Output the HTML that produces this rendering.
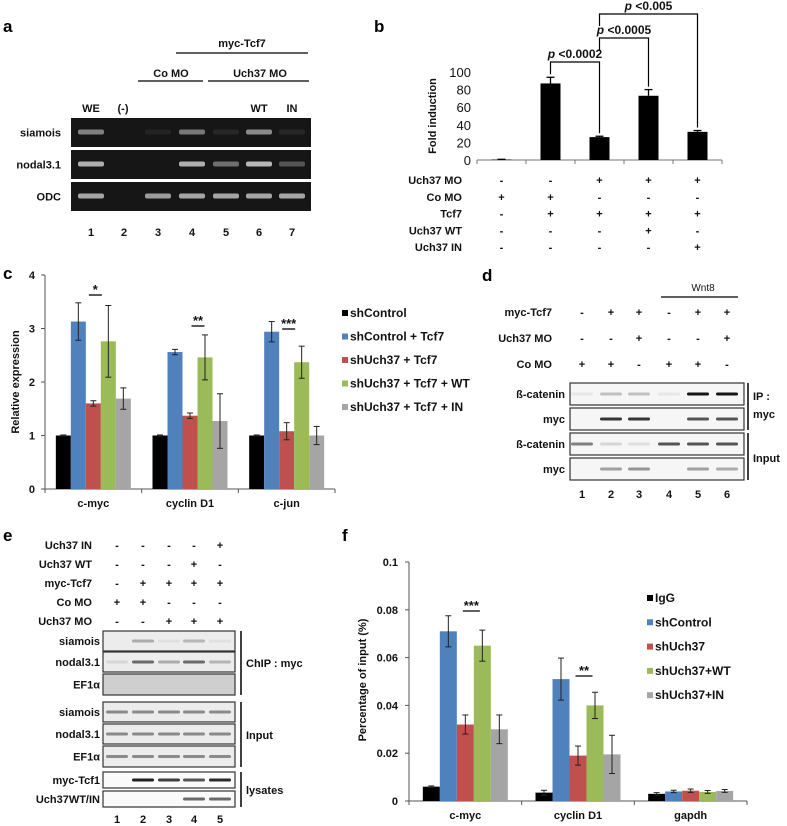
<!DOCTYPE html>
<html><head><meta charset="utf-8">
<style>
html,body{margin:0;padding:0;background:#fff;}
svg{display:block;font-family:"Liberation Sans",Arial,sans-serif;}
.b{font-weight:bold;font-size:11px;fill:#111;}
.pl{font-weight:bold;font-size:17px;fill:#000;}
</style></head>
<body>
<svg id="fig" width="787" height="826" viewBox="0 0 787 826" xmlns="http://www.w3.org/2000/svg">
<g>
<text class="pl" x="3" y="32">a</text>
<text class="b" x="242" y="47" text-anchor="middle">myc-Tcf7</text>
<line x1="176" y1="53" x2="308" y2="53" stroke="#000" stroke-width="1.2"/>
<text class="b" x="171" y="77" text-anchor="middle">Co MO</text>
<line x1="138" y1="81" x2="203" y2="81" stroke="#000" stroke-width="1.2"/>
<text class="b" x="260" y="77" text-anchor="middle">Uch37 MO</text>
<line x1="208" y1="81" x2="309" y2="81" stroke="#000" stroke-width="1.2"/>
<text class="b" x="91" y="112" text-anchor="middle">WE</text>
<text class="b" x="123" y="112" text-anchor="middle">(-)</text>
<text class="b" x="259" y="112" text-anchor="middle">WT</text>
<text class="b" x="292" y="112" text-anchor="middle">IN</text>
<g id="gelA"></g>
</g>
<g>
<text class="pl" x="374" y="32">b</text>
<g id="chartB"></g>
</g>
<g>
<text class="pl" x="3" y="279">c</text>
<g id="chartC"></g>
</g>
<g>
<text class="pl" x="482" y="281">d</text>
<text x="703" y="291" text-anchor="middle" style="font-size:10px;fill:#111">Wnt8</text>
<line x1="661" y1="297" x2="738" y2="297" stroke="#000" stroke-width="1.2"/>
<g id="blotD"></g>
</g>
<g>
<text class="pl" x="3" y="541">e</text>
<g id="blotE"></g>
</g>
<g>
<text class="pl" x="342" y="541">f</text>
<g id="chartF"></g>
</g>
</svg>
<script>
const bCategories = ["1","2","3","4","5"];
const bValues = [0.5, 87, 26, 73, 32];
const bErrors = [0.3, 7, 1, 7, 1.5];
const bTicks = [0,20,40,60,80,100];
const bCondLabels = ["Uch37 MO","Co MO","Tcf7","Uch37 WT","Uch37 IN"];
const bCondSigns = [["-","-","+","+","+"],["+","+","-","-","-"],["-","+","+","+","+"],["-","-","-","+","-"],["-","-","-","-","+"]];

const cCategories = ["c-myc","cyclin D1","c-jun"];
const cSeries = ["shControl","shControl + Tcf7","shUch37 + Tcf7","shUch37 + Tcf7 + WT","shUch37 + Tcf7 + IN"];
const cVals0 = [1.0, 1.0, 1.0];
const cVals1 = [3.13, 2.56, 2.94];
const cVals2 = [1.60, 1.37, 1.08];
const cVals3 = [2.76, 2.46, 2.37];
const cVals4 = [1.69, 1.27, 1.00];
const cErr0 = [0.01, 0.01, 0.01];
const cErr1 = [0.35, 0.05, 0.19];
const cErr2 = [0.05, 0.05, 0.16];
const cErr3 = [0.67, 0.42, 0.30];
const cErr4 = [0.20, 0.51, 0.17];
const cTicks = [0,1,2,3,4];
const cStars = ["*","**","***"];

const fCategories = ["c-myc","cyclin D1","gapdh"];
const fSeries = ["IgG","shControl","shUch37","shUch37+WT","shUch37+IN"];
const fVals0 = [0.006, 0.0035, 0.003];
const fVals1 = [0.071, 0.051, 0.004];
const fVals2 = [0.032, 0.019, 0.0043];
const fVals3 = [0.065, 0.040, 0.0038];
const fVals4 = [0.030, 0.0195, 0.0042];
const fErr0 = [0.0003, 0.001, 0.0005];
const fErr1 = [0.0065, 0.0088, 0.0005];
const fErr2 = [0.004, 0.004, 0.0007];
const fErr3 = [0.0065, 0.0055, 0.0006];
const fErr4 = [0.006, 0.008, 0.0006];
const fTicks = [0,0.02,0.04,0.06,0.08,0.1];
const fTickLabels = ["0","0.02","0.04","0.06","0.08","0.1"];
const fStars = ["***","**",""];

const colors = ["#000000","#4f81bd","#c0504d","#9bbb59","#a5a5a5"];
const NS="http://www.w3.org/2000/svg";
function mk(parent,tag,attrs,text){const e=document.createElementNS(NS,tag);for(const k in attrs)e.setAttribute(k,attrs[k]);if(text!==undefined)e.textContent=text;parent.appendChild(e);return e;}

(function(){
 const g=document.getElementById('gelA');
 const lanes=[91,124,158,192,226,259,292];
 const rows=[{n:"siamois",y:118,h:29,b:[0.55,0,0.03,0.5,0.05,0.6,0.05]},
             {n:"nodal3.1",y:150,h:29,b:[0.8,0,0,0.8,0.45,0.85,0.3]},
             {n:"ODC",y:182,h:29,b:[0.75,0,0.7,0.75,0.75,0.75,0.75]}];
 rows.forEach(r=>{
  const box=mk(g,'rect',{x:71,y:r.y,width:240,height:r.h,fill:'#161616'});
  
  
  mk(g,'text',{class:'b',x:61,y:r.y+r.h/2+4,'text-anchor':'end'},r.n);
  r.b.forEach((v,i)=>{ if(v>0){const c=Math.round(30+v*180);
    mk(g,'rect',{x:lanes[i]-13,y:r.y+r.h/2-3,width:26,height:5,rx:2,fill:`rgb(${c},${c},${c})`});}});
 });
 lanes.forEach((x,i)=>mk(g,'text',{class:'b',x:x,y:236,'text-anchor':'middle'},String(i+1)));
})();

(function(){
 const g=document.getElementById('chartB');
 const x0=477,x1=722,y0=160,yTop=72;
 const ys=v=>y0-(v/100)*(y0-yTop);
 const step=(x1-x0)/bCategories.length;
 const xc=i=>x0+step*(i+0.5);
 bTicks.forEach(t=>mk(g,'text',{x:471,y:ys(t)+5,'text-anchor':'end',style:'font-size:13px;fill:#111'},String(t)));
 const yt=mk(g,'text',{x:0,y:0,transform:'translate(436,116) rotate(-90)','text-anchor':'middle',class:'b'},'Fold induction');
 
 mk(g,'line',{x1:x0,y1:y0,x2:x1,y2:y0,stroke:'#777'});
 for(let i=0;i<=bCategories.length;i++) mk(g,'line',{x1:x0+step*i,y1:y0,x2:x0+step*i,y2:y0+4,stroke:'#777'});
 bValues.forEach((v,i)=>{
  const r=mk(g,'rect',{x:xc(i)-10,y:ys(v),width:20,height:y0-ys(v),fill:'#000'});
  
  
  const e=ys(v+bErrors[i]);
  mk(g,'line',{x1:xc(i),y1:ys(v),x2:xc(i),y2:e,stroke:'#000','stroke-width':1.3});
  mk(g,'line',{x1:xc(i)-4,y1:e,x2:xc(i)+4,y2:e,stroke:'#000','stroke-width':1.3});
 });
 const br=[[1,2,62,"<0.0002"],[2,3,38,"<0.0005"],[2,4,14,"<0.005"]];
 br.forEach(b=>{
  const a=xc(b[0]),c=xc(b[1]);
  const ya=ys(bValues[b[0]]+bErrors[b[0]])-3, yc=ys(bValues[b[1]]+bErrors[b[1]])-3;
  const yl=b[2];
  const p=mk(g,'path',{d:`M${a},${b[0]===2?yl+12:ya} L${a},${yl} L${c},${yl} L${c},${yc}`,fill:'none',stroke:'#000','stroke-width':1.2});
  
  
  const t=mk(g,'text',{x:(a+c)/2,y:yl-4,'text-anchor':'middle',class:'b',style:'font-size:12px'});
  mk(t,'tspan',{'font-style':'italic'},'p ');mk(t,'tspan',{},b[3]);
 });
 bCondLabels.forEach((l,r)=>{
  const y=184+r*16.8;
  mk(g,'text',{class:'b',x:462,y:y,'text-anchor':'end'},l);
  bCondSigns[r].forEach((s,i)=>mk(g,'text',{class:'b',x:xc(i),y:y,'text-anchor':'middle'},s));
 });
})();

function grouped(g,cfg){
 const {x0,x1,y0,yTop,max,cats,vals,errs,bw}=cfg;
 const ys=v=>y0-(v/max)*(y0-yTop);
 const gw=(x1-x0)/cats.length;
 mk(g,'line',{x1:x0,y1:yTop,x2:x0,y2:y0,stroke:'#555'});
 mk(g,'line',{x1:x0,y1:y0,x2:x1,y2:y0,stroke:'#555'});
 for(let i=0;i<=cats.length;i++) mk(g,'line',{x1:x0+gw*i,y1:y0,x2:x0+gw*i,y2:y0+4,stroke:'#555'});
 cfg.ticks.forEach((t,k)=>{mk(g,'line',{x1:x0-4,y1:ys(t),x2:x0,y2:ys(t),stroke:'#555'});
  mk(g,'text',{class:'b',x:x0-cfg.tickGap,y:ys(t)+4,'text-anchor':'end'},cfg.tickLabels[k]);});
 cats.forEach((c,ci)=>{
  const gx=x0+gw*ci+gw/2;
  mk(g,'text',{class:'b',x:gx,y:y0+cfg.catGap,'text-anchor':'middle'},c);
  vals.forEach((sv,si)=>{
   const bx=gx-bw*2.5+bw*si;
   const v=sv[ci],e=errs[si][ci];
   const r=mk(g,'rect',{x:bx,y:ys(v),width:bw,height:y0-ys(v),fill:colors[si]});
   
   
   const cx=bx+bw/2;
   mk(g,'line',{x1:cx,y1:ys(v+e),x2:cx,y2:ys(v-e),stroke:'#222','stroke-width':1});
   mk(g,'line',{x1:cx-3,y1:ys(v+e),x2:cx+3,y2:ys(v+e),stroke:'#222','stroke-width':1});
   mk(g,'line',{x1:cx-3,y1:ys(v-e),x2:cx+3,y2:ys(v-e),stroke:'#222','stroke-width':1});
  });
  const st=cfg.stars[ci];
  if(st){
   const sc=gx+cfg.starOff[ci], hw=cfg.starHW;
   const ly=cfg.starY[ci];
   mk(g,'line',{x1:sc-hw,y1:ly,x2:sc+hw,y2:ly,stroke:'#000','stroke-width':1.3});
   mk(g,'text',{class:'b',x:sc,y:ly-1,'text-anchor':'middle',style:'font-size:13px'},st);
  }
 });
 cfg.legend.forEach((l,i)=>{
  const y=cfg.legY+i*cfg.legStep;
  const s=mk(g,'rect',{x:cfg.legX,y:y-7,width:6,height:6,fill:colors[i]});
  
  
  mk(g,'text',{class:'b',x:cfg.legX+8,y:y,style:'font-size:'+cfg.legFont+'px'},l);
 });
}

(function(){
 const g=document.getElementById('chartC');
 grouped(g,{x0:45,x1:335,y0:489,yTop:275,max:4,cats:cCategories,
  vals:[cVals0,cVals1,cVals2,cVals3,cVals4],errs:[cErr0,cErr1,cErr2,cErr3,cErr4],bw:15,
  ticks:cTicks,tickLabels:cTicks.map(String),tickGap:10,catGap:18,stars:cStars,starY:[295,326,329],
  starOff:[2,8,2],starHW:6.5,
  legend:cSeries,legX:342,legY:317,legStep:23.5,legFont:12});
 const yt=mk(g,'text',{x:0,y:0,transform:'translate(19,382) rotate(-90)','text-anchor':'middle',class:'b'},'Relative expression');
 
})();

(function(){
 const g=document.getElementById('chartF');
 grouped(g,{x0:409,x1:747,y0:801,yTop:562,max:0.1,cats:fCategories,
  vals:[fVals0,fVals1,fVals2,fVals3,fVals4],errs:[fErr0,fErr1,fErr2,fErr3,fErr4],bw:17,
  ticks:fTicks,tickLabels:fTickLabels,tickGap:11,catGap:18,stars:fStars,starY:[611,676,0],
  starOff:[6,6,0],starHW:8.5,
  legend:fSeries,legX:647,legY:602,legStep:24.3,legFont:12});
 const yt=mk(g,'text',{x:0,y:0,transform:'translate(366,680) rotate(-90)','text-anchor':'middle',class:'b'},'Percentage of input (%)');
 
})();

function blotRow(g,x,y,w,h,bg,lanes,ints,bh,name){
 const r=mk(g,'rect',{x:x,y:y,width:w,height:h,fill:bg,stroke:'#333','stroke-width':1.2});
 
 
 lanes.forEach((lx,i)=>{const v=ints[i]; if(v>0){const c=Math.round(235-v*215);
  mk(g,'rect',{x:lx-11,y:y+h/2-bh/2,width:22,height:bh,rx:1.5,fill:`rgb(${c},${c},${c})`});}});
}

(function(){
 const g=document.getElementById('blotD');
 const lanes=[582,611,639,669,698,727];
 const cond=[["myc-Tcf7",["-","+","+","-","+","+"],316],["Uch37 MO",["-","-","+","-","-","+"],342],["Co MO",["+","+","-","+","+","-"],368]];
 cond.forEach(c=>{mk(g,'text',{class:'b',x:552,y:c[2],'text-anchor':'end'},c[0]);
  c[1].forEach((s,i)=>mk(g,'text',{class:'b',x:lanes[i],y:c[2],'text-anchor':'middle'},s));});
 const rows=[["ß-catenin",383,[0.02,0.2,0.2,0.02,1,1]],["myc",408,[0,0.85,0.85,0,0.7,0.7]],["ß-catenin",433,[0.5,0.1,0.05,0.7,0.7,0.7]],["myc",458,[0,0.35,0.4,0,0.35,0.3]]];
 rows.forEach(r=>{blotRow(g,570,r[1],174,22,'#f6f6f6',lanes,r[2],3,'blot-'+r[0]);
  mk(g,'text',{class:'b',x:565,y:r[1]+15,'text-anchor':'end'},r[0]);});
 mk(g,'line',{x1:748,y1:383,x2:748,y2:430,stroke:'#000','stroke-width':1.5});
 mk(g,'line',{x1:748,y1:433,x2:748,y2:480,stroke:'#000','stroke-width':1.5});
 mk(g,'text',{class:'b',x:753,y:400},'IP :');
 mk(g,'text',{class:'b',x:753,y:418},'myc');
 mk(g,'text',{class:'b',x:753,y:462},'Input');
 lanes.forEach((x,i)=>mk(g,'text',{class:'b',x:x,y:498,'text-anchor':'middle'},String(i+1)));
})();

(function(){
 const g=document.getElementById('blotE');
 const lanes=[117,143,169,194,220];
 const cond=[["Uch37 IN",["-","-","-","-","+"],549],["Uch37 WT",["-","-","-","+","-"],568],["myc-Tcf7",["-","+","+","+","+"],587],["Co MO",["+","+","-","-","-"],606],["Uch37 MO",["-","-","+","+","+"],625]];
 cond.forEach(c=>{mk(g,'text',{class:'b',x:92,y:c[2],'text-anchor':'end'},c[0]);
  c[1].forEach((s,i)=>mk(g,'text',{class:'b',x:lanes[i],y:c[2],'text-anchor':'middle'},s));});
 const rows=[["siamois",631,20,'#ececec',[0,0.3,0.05,0.25,0.05]],["nodal3.1",652,20,'#ececec',[0.1,0.6,0.3,0.6,0.25]],["EF1α",674,21,'#cfcfcf',[0,0,0,0,0]],
  ["siamois",702,20,'#ececec',[0.45,0.45,0.45,0.45,0.45]],["nodal3.1",724,20,'#ececec',[0.45,0.45,0.45,0.45,0.45]],["EF1α",746,21,'#ececec',[0.45,0.45,0.45,0.45,0.45]],
  ["myc-Tcf1",772,16,'#fafafa',[0,0.95,0.8,0.7,0.9]],["Uch37WT/IN",791,16,'#fafafa',[0,0,0,0.6,0.6]]];
 rows.forEach(r=>{blotRow(g,103,r[1],132,r[2],r[3],lanes,r[4],3,'blot-'+r[0]);
  mk(g,'text',{class:'b',x:100,y:r[1]+r[2]/2+4,'text-anchor':'end'},r[0]);});
 [[631,695],[702,767],[772,807]].forEach(s=>mk(g,'line',{x1:241,y1:s[0],x2:241,y2:s[1],stroke:'#000','stroke-width':1.5}));
 mk(g,'text',{class:'b',x:246,y:667},'ChIP : myc');
 mk(g,'text',{class:'b',x:246,y:739},'Input');
 mk(g,'text',{class:'b',x:246,y:794},'lysates');
 lanes.forEach((x,i)=>mk(g,'text',{class:'b',x:x,y:823,'text-anchor':'middle'},String(i+1)));
})();
</script>
</body></html>
